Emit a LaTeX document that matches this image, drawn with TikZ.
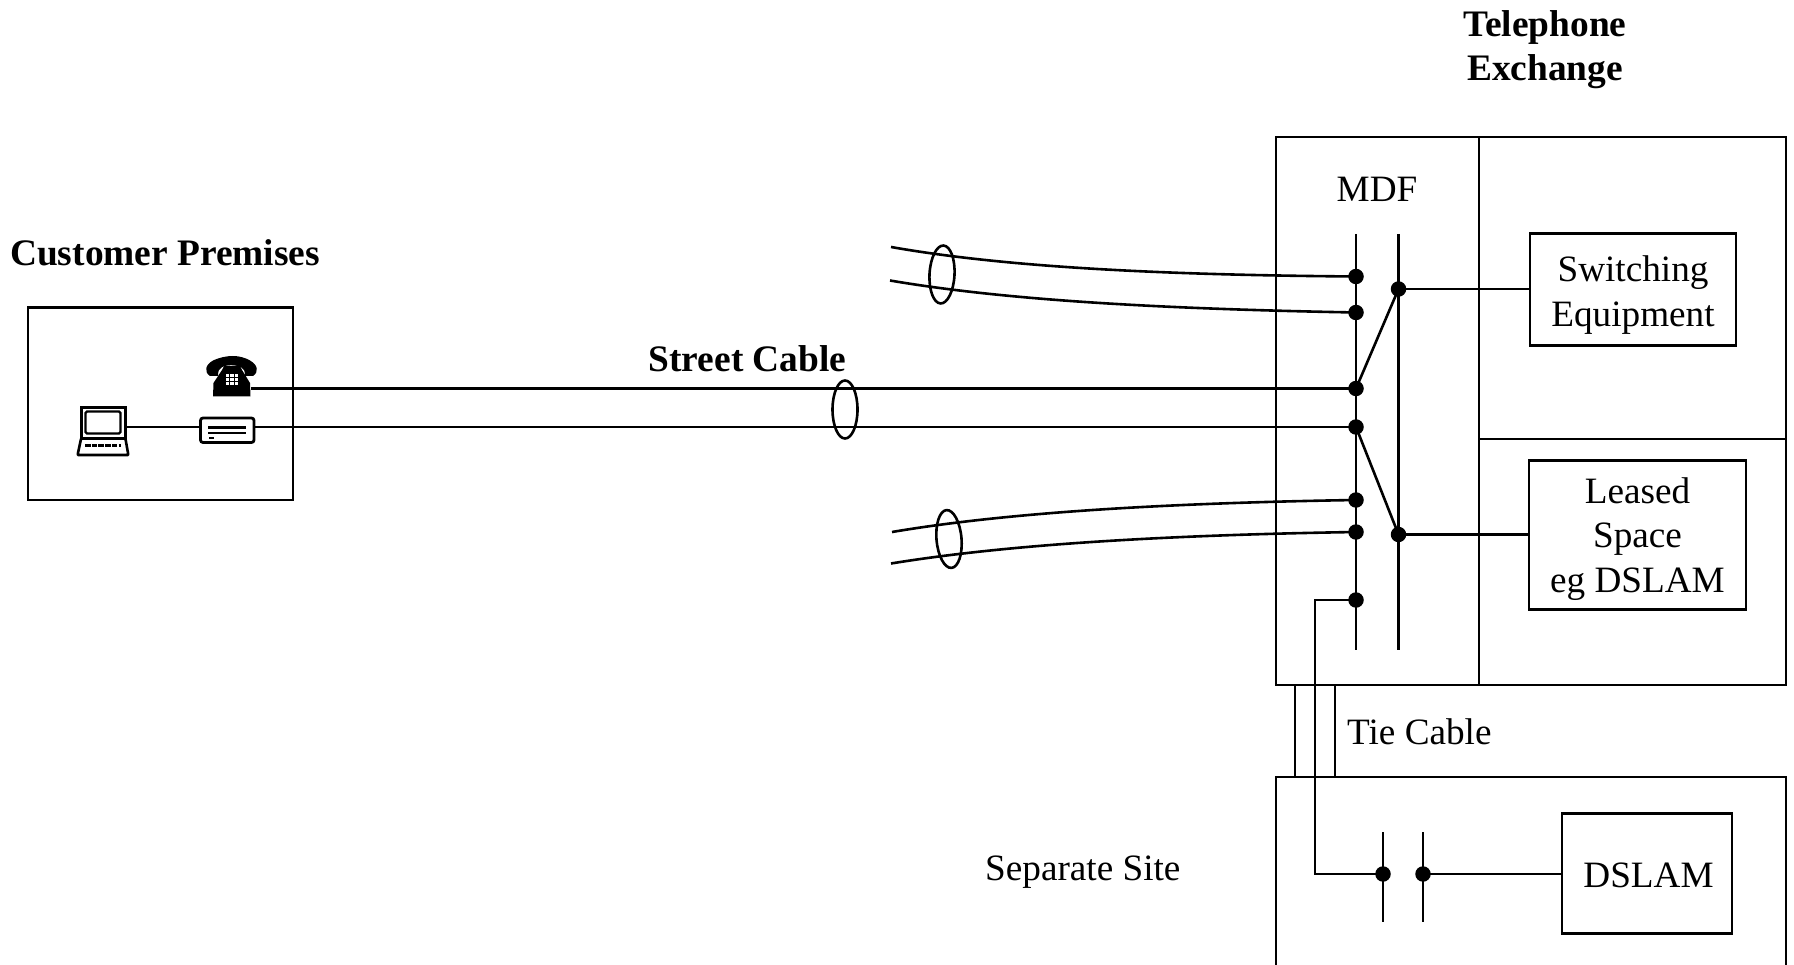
\documentclass[tikz,border=0pt]{standalone}
\usepackage{fontspec}
\setmainfont{Liberation Serif}
\usetikzlibrary{calc,shapes.geometric}
\tikzset{
  wire/.style={line width=2.6pt,black},
  box/.style={draw,line width=2.6pt,inner sep=0pt,align=center},
  lbl/.style={inner sep=0pt,align=center,font=\fontsize{37.2}{44.6}\selectfont},
  blbl/.style={inner sep=0pt,align=center,font=\fontsize{37.4}{44.6}\selectfont\bfseries},
  dot/.style={circle,fill=black,inner sep=0pt,minimum size=15.5pt},
  cab/.style={draw,ellipse,line width=2.6pt,minimum width=25pt,minimum height=58pt,inner sep=0pt},
}
\begin{document}
\begin{tikzpicture}[x=1pt,y=-1pt,line join=miter]
\useasboundingbox (0,0) rectangle (1794,965);
% boxes
\node[box,minimum width=265pt,minimum height=192pt,anchor=north west] (cust) at (26.5,306.5) {};
\draw[wire] (1276,137) rectangle (1786,685);
\draw[wire] (1479,137) -- (1479,685);
\draw[wire] (1479,439) -- (1786,439);
\draw[wire] (1276,965) -- (1276,777) -- (1786,777) -- (1786,965);
\node[box,minimum width=206pt,minimum height=112pt] (sw) at (1633,289.5) {};
\node[lbl] (swt) at (1633,295) {Switching\\Equipment};
\node[box,minimum width=217pt,minimum height=149pt] (ls) at (1637.5,535) {};
\node[lbl] (lst) at (1637.5,539) {Leased\\Space\\eg DSLAM};
\node[box,minimum width=170pt,minimum height=120pt] (ds) at (1647,873.5) {};
\node[lbl] (dst) at (1648.5,875) {DSLAM};
% bars
\coordinate (b1t) at (1356,234); \coordinate (b1b) at (1356,650);
\coordinate (b2t) at (1398.5,234); \coordinate (b2b) at (1398.5,650);
\draw[wire] (b1t) -- (b1b); \draw[wire] (b2t) -- (b2b);
\coordinate (b3t) at (1383,832); \coordinate (b3b) at (1383,922);
\coordinate (b4t) at (1423,832); \coordinate (b4b) at (1423,922);
\draw[wire] (b3t) -- (b3b); \draw[wire] (b4t) -- (b4b);
% dots
\node[dot] (a1) at (1356,276.5) {};
\node[dot] (a2) at (1356,312.5) {};
\node[dot] (a3) at (1356,388.5) {};
\node[dot] (a4) at (1356,427) {};
\node[dot] (a5) at (1356,500) {};
\node[dot] (a6) at (1356,532) {};
\node[dot] (a7) at (1356,600) {};
\node[dot] (r1) at (1398.5,289) {};
\node[dot] (r2) at (1398.5,534.5) {};
\node[dot] (s1) at (1383,874) {};
\node[dot] (s2) at (1423,874) {};
% links
\draw[wire] (a3.center) -- (r1.center);
\draw[wire] (a4.center) -- (r2.center);
\draw[wire] (r1.center) -- (r1.center -| sw.west);
\draw[wire] (r2.center) -- (r2.center -| ls.west);
\draw[wire] (s2.center) -- (s2.center -| ds.west);
\coordinate (tiec) at (1315,600);
\coordinate (tied) at (1315,874);
\draw[wire] (a7.center) -- (tiec) -- (tied) -- (s1.center);
\coordinate (tl1) at (1295,685); \coordinate (tl2) at (1295,777);
\coordinate (tr1) at (1335,685); \coordinate (tr2) at (1335,777);
\draw[wire] (tl1) -- (tl2);
\draw[wire] (tr1) -- (tr2);
% cables
\coordinate (c1) at (891,247); \coordinate (c2) at (890,280.5);
\coordinate (c3) at (892,532); \coordinate (c4) at (891,563.5);
\draw[wire] (c1) .. controls (1010,268) and (1170,275) .. (a1.center);
\draw[wire] (c2) .. controls (1010,301) and (1170,309) .. (a2.center);
\draw[wire] (c3) .. controls (1010,512) and (1170,503) .. (a5.center);
\draw[wire] (c4) .. controls (1010,544) and (1170,535) .. (a6.center);
\node[cab,rotate=-3] (e1) at (942,274.5) {};
\node[cab,rotate=5] (e2) at (949,539) {};
% lines from the premises
\coordinate (ph) at (251,388.5);
\coordinate (mo) at (255,427);
\coordinate (la) at (127,427);
\coordinate (mw) at (200,427);
\draw[wire] (ph) -- (a3.center);
\draw[wire] (mo) -- (a4.center);
\draw[wire] (la) -- (mw);
\node[cab] (e0) at (845,409.5) {};
% modem
\draw[line width=2.8pt,rounded corners=2.5pt] (200.5,418) rectangle (254,442.5);
\draw[line width=2.2pt] (208,427.5) -- (246,427.5) (208,433) -- (246,433);
\draw[line width=2.2pt] (209,438) -- (214,438);
% laptop
\draw[line width=2.6pt] (81.5,407.5) rectangle (125.5,438.5);
\draw[line width=2.4pt,rounded corners=1.5pt] (85.5,411.5) rectangle (120.5,433.5);
\draw[line width=2.6pt,line join=round] (81,439) -- (78,453) -- (78,455) -- (128,455) -- (128,453) -- (125.5,439);
\draw[line width=3.4pt,dash pattern=on 5.5pt off 1.2pt] (85,445.5) -- (121,445.5);
% phone
\fill (210,376) .. controls (204,372) and (205,365) .. (213,360.5) .. controls (226,354.5) and (240,354.5) .. (250,360.5) .. controls (258,365) and (259,372) .. (253,376) -- (245,376) .. controls (245,371) and (244,368.5) .. (241,367) .. controls (234,364.5) and (228,364.5) .. (222,367) .. controls (219,368.5) and (218,371) .. (218,376) -- cycle;
\fill (224,366) -- (240,366) -- (242,370) -- (250,383) -- (250.5,396.5) -- (213,396.5) -- (213.5,383) -- (222,370) -- cycle;
\foreach \i in {0,1,2} \foreach \j in {0,1,2} \fill[white] (226+\i*4.4,374.5+\j*3.9) rectangle +(3.2,2.7);
% labels
\node[blbl] (tel) at (1545,28) {Telephone};
\node[blbl] (exc) at (1545,72) {Exchange};
\node[blbl,anchor=west] (cp) at (10,253) {Customer Premises};
\node[blbl] (sc) at (747.5,359) {Street Cable};
\node[lbl] (mdf) at (1377,189) {MDF};
\node[lbl,anchor=west] (tc) at (1347,732) {Tie Cable};
\node[lbl,anchor=west] (ss) at (985,872) {Separate Site};
\end{tikzpicture}
\end{document}
